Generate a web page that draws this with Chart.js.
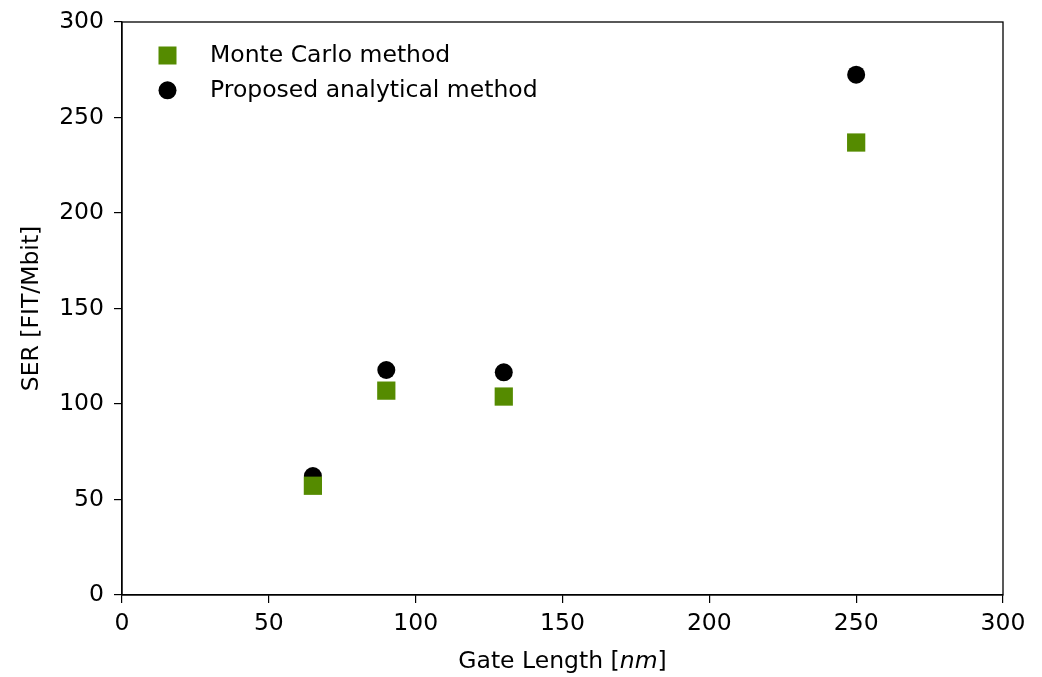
<!DOCTYPE html>
<html>
<head>
<meta charset="utf-8">
<script src="https://cdn.jsdelivr.net/npm/chart.js@4.4.0/dist/chart.umd.min.js"></script>
<style>
  html, body { margin: 0; padding: 0; background: #fff; }
  #wrap { width: 1042px; height: 677px; }
</style>
</head>
<body>
<div id="wrap"><canvas id="serChart" width="1042" height="677"></canvas></div>
<script>
// Gate lengths (nm)
let gateLength = [65, 90, 130, 250];
// SER values in FIT/Mbit
let monteCarlo = [57.2, 107.0, 103.9, 236.9];
let analytical = [62.3, 117.8, 116.6, 272.4];
let xTicks = [0, 50, 100, 150, 200, 250, 300];
let yTicks = [0, 50, 100, 150, 200, 250, 300];

let green = '#558b00';
let fontFam = '"DejaVu Sans", sans-serif';
let fontSize = 23.5;

function toPoints(xs, ys) {
  return xs.map((x, i) => ({ x: x, y: ys[i] }));
}

// Rahmen, Legende und Achsentitel
let framePlugin = {
  id: 'frame',
  afterDraw(chart) {
    let ctx = chart.ctx, a = chart.chartArea;
    let f = fontSize + 'px ' + fontFam, fi = 'italic ' + fontSize + 'px ' + fontFam;
    ctx.save();
    ctx.strokeStyle = '#000';
    ctx.lineWidth = 1.3;
    ctx.strokeRect(a.left, a.top, a.right - a.left, a.bottom - a.top);

    // legend
    let ds = chart.data.datasets;
    ctx.fillStyle = green;
    ctx.fillRect(167.5 - 9, 55.5 - 9, 18, 18);
    ctx.fillStyle = '#000';
    ctx.beginPath();
    ctx.arc(167.5, 90.3, 9, 0, Math.PI * 2);
    ctx.fill();
    ctx.font = f;
    ctx.textBaseline = 'alphabetic';
    ctx.fillText(ds[0].label, 210, 62);
    ctx.fillText(ds[1].label, 210, 97);

    // x title with italic unit
    let p1 = 'Gate Length [', p2 = 'nm', p3 = ']';
    ctx.font = f;
    let w1 = ctx.measureText(p1).width, w3 = ctx.measureText(p3).width;
    ctx.font = fi;
    let w2 = ctx.measureText(p2).width;
    let cx = (a.left + a.right) / 2;
    let x0 = cx - (w1 + w2 + w3) / 2, yb = 668;
    ctx.font = f;
    ctx.fillText(p1, x0, yb);
    ctx.font = fi;
    ctx.fillText(p2, x0 + w1, yb);
    ctx.font = f;
    ctx.fillText(p3, x0 + w1 + w2, yb);

    // y title
    ctx.translate(38, (a.top + a.bottom) / 2);
    ctx.rotate(-Math.PI / 2);
    ctx.textAlign = 'center';
    ctx.fillText('SER [FIT/Mbit]', 0, 0);
    ctx.restore();
  }
};

let config = {
  type: 'scatter',
  data: {
    datasets: [
      { label: 'Monte Carlo method', data: toPoints(gateLength, monteCarlo), pointStyle: 'rect', pointRadius: 12.9, pointHoverRadius: 12.9, backgroundColor: green, borderColor: green, borderWidth: 0 },
      { label: 'Proposed analytical method', data: toPoints(gateLength, analytical), pointStyle: 'circle', pointRadius: 9, pointHoverRadius: 9, backgroundColor: '#000', borderColor: '#000', borderWidth: 0 }
    ]
  },
  options: {
    responsive: false,
    animation: false,
    events: [],
    layout: { padding: { left: 0, top: 22, right: 39, bottom: 0 } },
    plugins: { legend: { display: false }, tooltip: { enabled: false } },
    scales: {
      x: {
        type: 'linear', min: 0, max: 300,
        afterBuildTicks: s => { s.ticks = xTicks.map(v => ({ value: v })); },
        afterFit: s => { s.height = 82; s.paddingLeft = 0; s.paddingRight = 0; },
        grid: { drawOnChartArea: false, color: '#000', tickLength: 8, lineWidth: 1.2 },
        border: { display: true, color: '#000', width: 1.3 },
        ticks: { color: '#000', font: { family: fontFam, size: fontSize }, padding: 7, maxRotation: 0 }
      },
      y: {
        type: 'linear', min: 0, max: 300,
        afterBuildTicks: s => { s.ticks = yTicks.map(v => ({ value: v })); },
        afterFit: s => { s.width = 122; s.paddingTop = 0; s.paddingBottom = 0; },
        grid: { drawOnChartArea: false, color: '#000', tickLength: 8, lineWidth: 1.2 },
        border: { display: true, color: '#000', width: 1.3 },
        ticks: { color: '#000', font: { family: fontFam, size: fontSize }, padding: 10 }
      }
    }
  },
  plugins: [framePlugin]
};

let ctx = document.getElementById('serChart').getContext('2d');
let serChart = new Chart(ctx, config);
</script>
</body>
</html>
